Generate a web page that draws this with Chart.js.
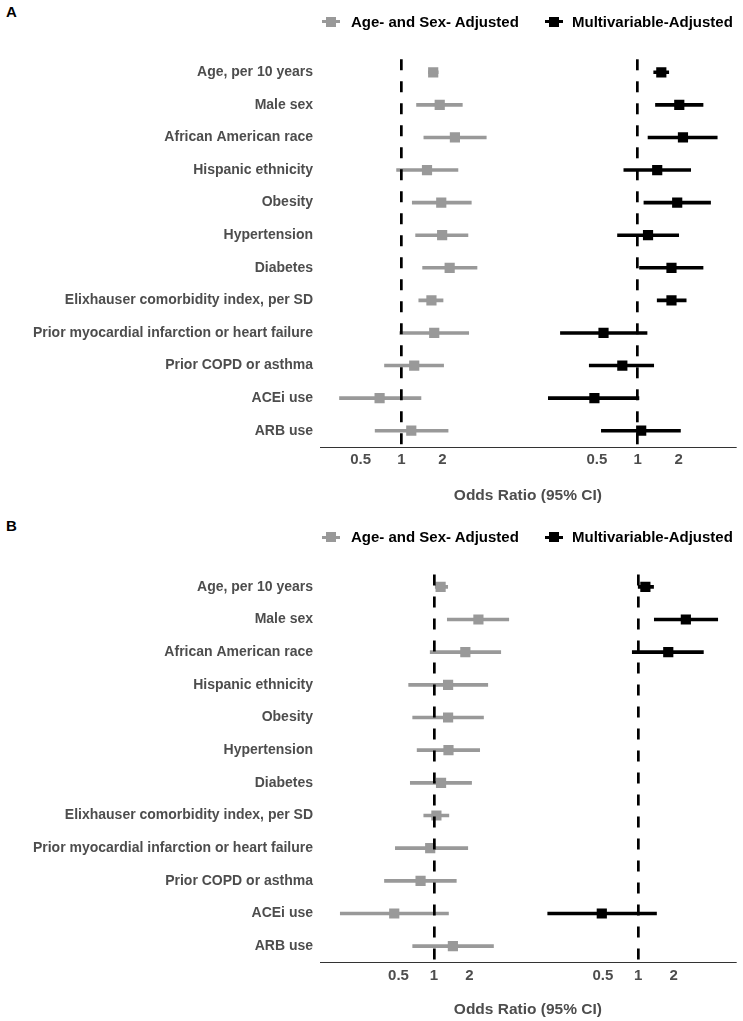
<!DOCTYPE html>
<html>
<head>
<meta charset="utf-8">
<title>Odds ratios, panels A and B</title>
<script src="https://cdn.jsdelivr.net/npm/chart.js@4"></script>
<style>
  body { margin: 0; background: #fff; font-family: "Liberation Sans", Arial, sans-serif; }
  #wrap { position: relative; width: 743px; height: 1021px; overflow: hidden; }
  canvas { position: absolute; left: 0; }
  .tag { position: absolute; left: 6px; font-weight: bold; font-size: 15px; line-height: 18px; color: #000; }
  .key { position: absolute; font-weight: bold; font-size: 15px; line-height: 18px; color: #000; white-space: nowrap; }
  .sw { position: absolute; width: 18px; height: 3px; }
  .sw i { position: absolute; left: 4px; top: -3.5px; width: 10px; height: 10px; background: inherit; }
</style>
</head>
<body>
<div id="wrap">
  <div class="tag" style="top:3px">A</div>
  <div class="tag" style="top:517px">B</div>
  <canvas id="panelA" width="743" height="510" style="top:0"></canvas>
  <canvas id="panelB" width="743" height="511" style="top:510px"></canvas>
</div>

<script>
const CATEGORIES = [
  'Age, per 10 years', 'Male sex', 'African American race', 'Hispanic ethnicity',
  'Obesity', 'Hypertension', 'Diabetes', 'Elixhauser comorbidity index, per SD',
  'Prior myocardial infarction or heart failure', 'Prior COPD or asthma', 'ACEi use', 'ARB use'
];

const SERIES_NAMES = ['Age- and Sex- Adjusted', 'Multivariable-Adjusted'];
const TICK_VALUES  = [0.5, 1, 2];
const X_TITLE      = 'Odds Ratio (95% CI)';

// panel A
const A_AGESEX_OR = [1.71, 1.91, 2.47, 1.54, 1.96, 1.99, 2.26, 1.66, 1.74, 1.24, 0.69, 1.18];
const A_AGESEX_LO = [1.58, 1.29, 1.46, 0.92, 1.20, 1.27, 1.43, 1.34, 0.97, 0.75, 0.35, 0.64];
const A_AGESEX_HI = [1.86, 2.80, 4.20, 2.60, 3.26, 3.08, 3.59, 2.02, 3.12, 2.04, 1.39, 2.20];
const A_MULTI_OR  = [1.49, 2.02, 2.15, 1.39, 1.95, 1.19, 1.77, 1.77, 0.56, 0.77, 0.48, 1.06];
const A_MULTI_LO  = [1.31, 1.35, 1.19, 0.79, 1.11, 0.71, 1.03, 1.39, 0.27, 0.44, 0.22, 0.54];
const A_MULTI_HI  = [1.69, 3.02, 3.84, 2.45, 3.43, 2.00, 3.02, 2.27, 1.17, 1.31, 1.02, 2.06];

// panel B (multivariable model only reported for four rows)
const B_AGESEX_OR = [1.14, 2.39, 1.85, 1.32, 1.32, 1.33, 1.15, 1.05, 0.93, 0.77, 0.46, 1.45];
const B_AGESEX_LO = [1.00, 1.30, 0.93, 0.61, 0.66, 0.72, 0.63, 0.82, 0.47, 0.38, 0.16, 0.66];
const B_AGESEX_HI = [1.31, 4.33, 3.70, 2.87, 2.64, 2.45, 2.09, 1.34, 1.94, 1.55, 1.33, 3.21];
const B_MULTI_OR  = [1.15, 2.54, 1.80, null, null, null, null, null, null, null, 0.49, null];
const B_MULTI_LO  = [1.00, 1.37, 0.89, null, null, null, null, null, null, null, 0.17, null];
const B_MULTI_HI  = [1.35, 4.74, 3.58, null, null, null, null, null, null, null, 1.43, null];

// the multivariable block sits 4 natural-log units to the right of the first block
const BLOCK_SHIFT = 4;

const GREY  = '#999999';
const BLACK = '#000000';
const TEXT  = '#4d4d4d';
const FONT  = '"Liberation Sans", Arial, sans-serif';

const ln = v => (v == null ? null : Math.log(v));

function ciBars(lo, hi, shift) {
  return lo.map((l, i) => (l == null ? null : [ln(l) + shift, ln(hi[i]) + shift]));
}
function points(or, shift) {
  return or.map((v, i) => (v == null ? null : { x: ln(v) + shift, y: CATEGORIES[i] }))
           .filter(p => p);
}

function addLegend(top) {
  const wrap = document.getElementById('wrap');
  const items = [
    { color: GREY,  swLeft: 322, textLeft: 351, text: SERIES_NAMES[0] },
    { color: BLACK, swLeft: 545, textLeft: 572, text: SERIES_NAMES[1] },
  ];
  items.forEach(it => {
    const sw = document.createElement('div');
    sw.className = 'sw';
    sw.style.left = it.swLeft + 'px';
    sw.style.top = (top - 1.5) + 'px';
    sw.style.background = it.color;
    sw.appendChild(document.createElement('i'));
    wrap.appendChild(sw);
    const t = document.createElement('div');
    t.className = 'key';
    t.style.left = it.textLeft + 'px';
    t.style.top = (top - 9) + 'px';
    t.textContent = it.text;
    wrap.appendChild(t);
  });
}

function makePanel(id, p) {
  const tickPos = [];
  const tickText = [];
  [0, BLOCK_SHIFT].forEach(s => TICK_VALUES.forEach(v => { tickPos.push(ln(v) + s); tickText.push(String(v)); }));
  const refLines = [0, BLOCK_SHIFT];
  const canvas = document.getElementById(id);
  const H = canvas.height;

  new Chart(canvas, {
    type: 'bar',
    data: {
      labels: CATEGORIES,
      datasets: [
        { data: ciBars(p.gLo, p.gHi, 0), backgroundColor: GREY, barThickness: 3, grouped: false, borderWidth: 0, order: 4 },
        { data: ciBars(p.mLo, p.mHi, BLOCK_SHIFT), backgroundColor: BLACK, barThickness: 3, grouped: false, borderWidth: 0, order: 3 },
        { type: 'line', indexAxis: 'y', data: points(p.gOr, 0), showLine: false,
          pointStyle: 'rect', pointRadius: 7.2, pointBorderWidth: 0, pointBackgroundColor: GREY, order: 2 },
        { type: 'line', indexAxis: 'y', data: points(p.mOr, BLOCK_SHIFT), showLine: false,
          pointStyle: 'rect', pointRadius: 7.2, pointBorderWidth: 0, pointBackgroundColor: BLACK, order: 1 },
      ]
    },
    options: {
      indexAxis: 'y',
      responsive: false,
      animation: false,
      events: [],
      layout: { padding: { top: p.plotTop, right: 6, bottom: 0, left: 0 } },
      plugins: { legend: { display: false }, tooltip: { enabled: false } },
      scales: {
        x: {
          type: 'linear',
          min: p.xMin,
          max: p.xMax,
          afterBuildTicks: s => { s.ticks = tickPos.map(v => ({ value: v })); },
          afterFit: s => { s.height = H - p.axisY; },
          ticks: {
            autoSkip: false,
            maxRotation: 0,
            padding: 4,
            color: TEXT,
            font: { family: FONT, size: 15, weight: 'bold' },
            callback: (v, i) => tickText[i]
          },
          grid: {
            drawTicks: false,
            z: 1,
            lineWidth: 2.7,
            color: c => (c.tick && refLines.some(r => Math.abs(r - c.tick.value) < 1e-9) ? BLACK : 'rgba(0,0,0,0)')
          },
          border: { display: true, z: 2, color: '#333333', width: 1, dash: [11, 11], dashOffset: p.dashOffset },
          title: {
            display: true,
            text: X_TITLE,
            color: TEXT,
            font: { family: FONT, size: 15.5, weight: 'bold' },
            padding: { top: 0, bottom: p.titlePad }
          }
        },
        y: {
          type: 'category',
          afterFit: s => { s.width = 320; },
          grid: { display: false, drawTicks: false },
          border: { display: false },
          ticks: {
            padding: 7,
            color: TEXT,
            font: { family: FONT, size: 14, weight: 'bold' }
          }
        }
      }
    }
  });
}

makePanel('panelA', {
  gOr: A_AGESEX_OR, gLo: A_AGESEX_LO, gHi: A_AGESEX_HI,
  mOr: A_MULTI_OR,  mLo: A_MULTI_LO,  mHi: A_MULTI_HI,
  xMin: -1.38, xMax: 5.66,
  plotTop: 56, axisY: 447, titlePad: 5, dashOffset: 18.7
});
makePanel('panelB', {
  gOr: B_AGESEX_OR, gLo: B_AGESEX_LO, gHi: B_AGESEX_HI,
  mOr: B_MULTI_OR,  mLo: B_MULTI_LO,  mHi: B_MULTI_HI,
  xMin: -2.23, xMax: 5.91,
  plotTop: 60.5, axisY: 452.5, titlePad: 2, dashOffset: 18
});

addLegend(21.5);
addLegend(537);
</script>
</body>
</html>
